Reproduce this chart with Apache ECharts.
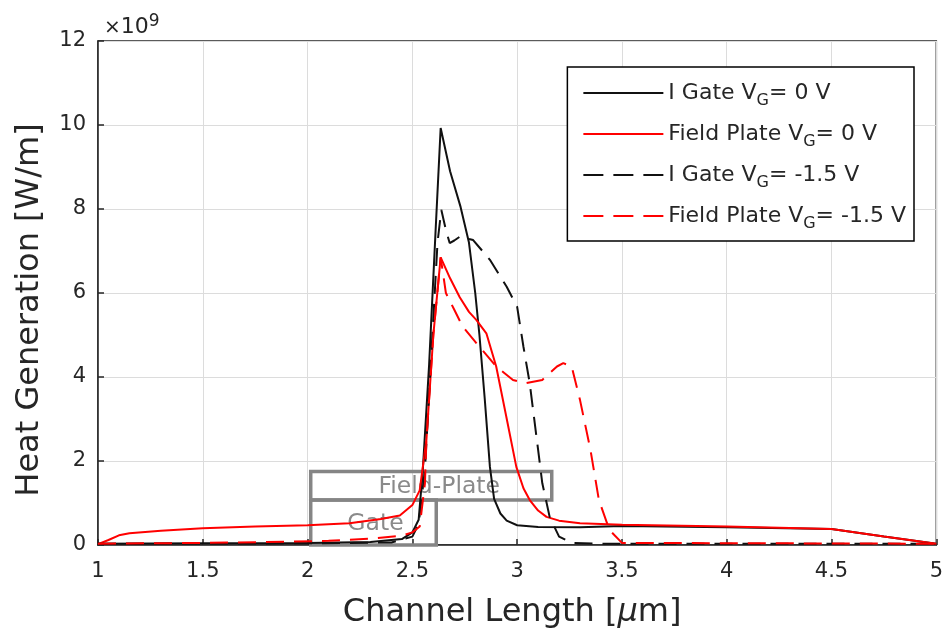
<!DOCTYPE html>
<html>
<head>
<meta charset="utf-8">
<title>Heat Generation along the Channel</title>
<script src="https://cdn.jsdelivr.net/npm/echarts@6/dist/echarts.min.js"></script>
<style>
  html, body { margin: 0; padding: 0; background: #fff; }
  #chart { width: 946px; height: 639px; }
</style>
</head>
<body>
<div id="chart"></div>
<script>
// Heat generation (x 1e9 W/m) versus position along the channel (um)
var iGateV0 = [
  [1.0, 0.03], [1.5, 0.04], [2.0, 0.05], [2.3, 0.07], [2.45, 0.14], [2.5, 0.3],
  [2.53, 0.6], [2.55, 1.8], [2.58, 4.3], [2.61, 7.4], [2.635, 9.93], [2.68, 8.9],
  [2.73, 8.05], [2.77, 7.2], [2.8, 6.0], [2.82, 5.0], [2.845, 3.5], [2.87, 1.86],
  [2.89, 1.1], [2.92, 0.75], [2.95, 0.58], [3.0, 0.47], [3.1, 0.43], [3.3, 0.42],
  [3.5, 0.45], [4.0, 0.42], [4.5, 0.38], [4.75, 0.2], [5.0, 0.03]
];
var fieldPlateV0 = [
  [1.0, 0.02], [1.05, 0.12], [1.1, 0.23], [1.15, 0.28], [1.3, 0.34], [1.5, 0.40],
  [1.75, 0.44], [2.0, 0.47], [2.2, 0.52], [2.35, 0.62], [2.44, 0.7], [2.5, 0.95],
  [2.535, 1.3], [2.567, 2.5], [2.6, 5.0], [2.635, 6.85], [2.68, 6.35], [2.726, 5.9],
  [2.77, 5.55], [2.805, 5.36], [2.853, 5.04], [2.9, 4.25], [2.948, 3.06], [2.996, 1.86],
  [3.03, 1.35], [3.06, 1.07], [3.1, 0.82], [3.14, 0.67], [3.2, 0.58], [3.3, 0.52],
  [3.5, 0.48], [4.0, 0.44], [4.5, 0.38], [4.75, 0.2], [5.0, 0.03]
];
var iGateVm15 = [
  [1.0, 0.03], [2.0, 0.04], [2.4, 0.06], [2.5, 0.2], [2.53, 0.5], [2.56, 1.8],
  [2.59, 4.5], [2.62, 7.2], [2.638, 7.98], [2.66, 7.5], [2.678, 7.19], [2.7, 7.25],
  [2.726, 7.34], [2.79, 7.26], [2.87, 6.79], [2.95, 6.15], [3.0, 5.67], [3.03, 4.72],
  [3.06, 3.85], [3.09, 2.66], [3.12, 1.47], [3.155, 0.67], [3.2, 0.2], [3.26, 0.05],
  [3.4, 0.03], [5.0, 0.03]
];
var fieldPlateVm15 = [
  [1.0, 0.03], [1.5, 0.05], [1.915, 0.08], [2.1, 0.1], [2.3, 0.15], [2.45, 0.22],
  [2.5, 0.3], [2.535, 0.44], [2.56, 1.47], [2.567, 2.5], [2.6, 5.0], [2.635, 6.85],
  [2.66, 6.0], [2.7, 5.6], [2.74, 5.2], [2.82, 4.72], [2.9, 4.25], [2.98, 3.93],
  [3.04, 3.85], [3.12, 3.93], [3.19, 4.25], [3.22, 4.33], [3.26, 4.25], [3.3, 3.45],
  [3.35, 2.26], [3.39, 1.07], [3.44, 0.36], [3.5, 0.05], [5.0, 0.03]
];

// Device regions outlined on the plot: [x0, y0, x1, y1]
var gateRegion = [2.015, 0.0, 2.614, 1.07];
var fieldPlateRegion = [2.015, 1.07, 3.165, 1.75];

var xTicks = { min: 1, max: 5, interval: 0.5 };
var yTicks = { min: 0, max: 12, interval: 2 };

var seriesNames = ['I Gate V_G= 0 V', 'Field Plate V_G= 0 V', 'I Gate V_G= -1.5 V', 'Field Plate V_G= -1.5 V'];

var textColor = '#262626';
var font = 'DejaVu Sans, Liberation Sans, sans-serif';
var dashPattern = [18, 10];
var legendDash = [20, 10];

function legendLabel(name) {
  var parts = name.split('V_G');
  return '{n|' + parts[0] + 'V}{s|G}{n|' + parts[1] + '}';
}

function lineSeries(name, data, color, dashed) {
  return {
    name: name,
    type: 'line',
    data: data,
    symbol: 'none',
    z: 3,
    lineStyle: { color: color, width: 2, type: dashed ? dashPattern : 'solid' },
    itemStyle: { color: color }
  };
}

function legendItem(name, color, dashed) {
  return {
    name: name,
    itemStyle: { opacity: 0 },
    lineStyle: { color: color, width: 2, type: dashed ? legendDash : 'solid' }
  };
}

var chart = echarts.init(document.getElementById('chart'), null, { renderer: 'canvas' });

chart.setOption({
  animation: false,
  backgroundColor: '#fff',
  textStyle: { fontFamily: font },
  grid: {
    left: 98, right: 9, top: 41, bottom: 94,
    show: true, borderColor: textColor, borderWidth: 1.5, backgroundColor: '#fff'
  },
  xAxis: {
    type: 'value',
    min: xTicks.min, max: xTicks.max, interval: xTicks.interval,
    name: '{n|Channel Length [}{mu|μ}{n|m]}',
    nameLocation: 'middle',
    nameGap: 52,
    nameTextStyle: {
      padding: [0, 10, 0, 0],
      rich: {
        n: { fontSize: 32, color: textColor, fontFamily: font },
        mu: { fontSize: 32, color: textColor, fontFamily: font, fontStyle: 'italic' }
      }
    },
    axisLine: { show: true, lineStyle: { color: textColor, width: 1.5 } },
    axisTick: { show: true, inside: true, length: 6, lineStyle: { color: textColor, width: 1.5 } },
    axisLabel: { color: textColor, fontSize: 21, margin: 16, fontFamily: font },
    splitLine: { show: true, lineStyle: { color: '#dcdcdc', width: 1 } }
  },
  yAxis: {
    type: 'value',
    min: yTicks.min, max: yTicks.max, interval: yTicks.interval,
    name: 'Heat Generation [W/m]',
    nameLocation: 'middle',
    nameGap: 52,
    nameTextStyle: { fontSize: 32, color: textColor, fontFamily: font, padding: [0, 34, 0, 0] },
    axisLine: { show: true, lineStyle: { color: textColor, width: 1.5 } },
    axisTick: { show: true, inside: true, length: 6, lineStyle: { color: textColor, width: 1.5 } },
    axisLabel: { color: textColor, fontSize: 21, margin: 12, fontFamily: font },
    splitLine: { show: true, lineStyle: { color: '#dcdcdc', width: 1 } }
  },
  legend: {
    data: [
      legendItem(seriesNames[0], '#111111', false),
      legendItem(seriesNames[1], '#ff0000', false),
      legendItem(seriesNames[2], '#111111', true),
      legendItem(seriesNames[3], '#ff0000', true)
    ],
    orient: 'vertical',
    right: 32,
    top: 67,
    padding: [15, 8, 9, 15],
    itemGap: 14,
    itemWidth: 80,
    itemHeight: 14,
    borderColor: '#000',
    borderWidth: 1.5,
    backgroundColor: '#fff',
    formatter: legendLabel,
    textStyle: {
      color: textColor,
      rich: {
        n: { fontSize: 22, color: textColor, fontFamily: font },
        s: { fontSize: 16, color: textColor, fontFamily: font, padding: [16, 0, 0, 0] }
      }
    }
  },
  graphic: [{
    type: 'text',
    left: 104,
    top: 13,
    style: {
      text: '{x|×}{n|10}{p|9}',
      rich: {
        x: { fontSize: 20, fill: textColor, fontFamily: font },
        n: { fontSize: 22, fill: textColor, fontFamily: font },
        p: { fontSize: 17, fill: textColor, fontFamily: font, padding: [0, 0, 12, 0] }
      }
    }
  }],
  series: [
    {
      name: 'regions',
      type: 'line',
      data: [],
      z: 1,
      markArea: {
        silent: true,
        itemStyle: { color: 'rgba(0,0,0,0)', borderColor: '#858585', borderWidth: 3.5 },
        label: { show: true, position: 'inside', color: '#8a8a8a', fontSize: 23.5, fontFamily: font },
        data: [
          [
            { xAxis: fieldPlateRegion[0], yAxis: fieldPlateRegion[1], name: 'Field-Plate',
              label: { offset: [8, 1] } },
            { xAxis: fieldPlateRegion[2], yAxis: fieldPlateRegion[3] }
          ],
          [
            { xAxis: gateRegion[0], yAxis: gateRegion[1], name: 'Gate', label: { offset: [2, 1] } },
            { xAxis: gateRegion[2], yAxis: gateRegion[3] }
          ]
        ]
      }
    },
    lineSeries(seriesNames[0], iGateV0, '#111111', false),
    lineSeries(seriesNames[1], fieldPlateV0, '#ff0000', false),
    lineSeries(seriesNames[2], iGateVm15, '#111111', true),
    lineSeries(seriesNames[3], fieldPlateVm15, '#ff0000', true)
  ]
});
</script>
</body>
</html>
